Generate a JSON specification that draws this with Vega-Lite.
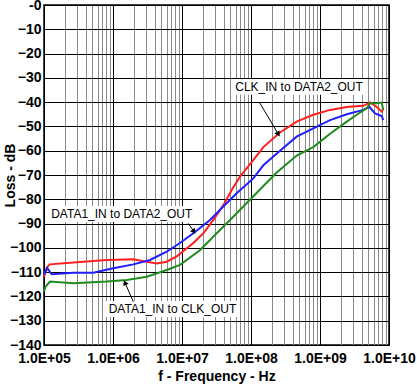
{
  "$schema": "https://vega.github.io/schema/vega-lite/v6.json",
  "width": 345,
  "height": 340,
  "autosize": {"type": "none"},
  "padding": {"left": 44, "top": 5, "right": 28, "bottom": 42},
  "config": {"view": {"stroke": "black", "strokeWidth": 1.5}, "font": "Liberation Sans"},
  "datasets": {
    "curves": [
      {"series": "CLK_IN to DATA2_OUT", "f": 100000, "loss": -112},
      {"series": "CLK_IN to DATA2_OUT", "f": 110000, "loss": -108},
      {"series": "CLK_IN to DATA2_OUT", "f": 122000, "loss": -106.8},
      {"series": "CLK_IN to DATA2_OUT", "f": 266000, "loss": -106},
      {"series": "CLK_IN to DATA2_OUT", "f": 810000, "loss": -105},
      {"series": "CLK_IN to DATA2_OUT", "f": 1970000, "loss": -104.7},
      {"series": "CLK_IN to DATA2_OUT", "f": 3080000, "loss": -105.7},
      {"series": "CLK_IN to DATA2_OUT", "f": 4300000, "loss": -106.4},
      {"series": "CLK_IN to DATA2_OUT", "f": 6000000, "loss": -105.7},
      {"series": "CLK_IN to DATA2_OUT", "f": 8400000, "loss": -103.5},
      {"series": "CLK_IN to DATA2_OUT", "f": 14600000, "loss": -98},
      {"series": "CLK_IN to DATA2_OUT", "f": 20400000, "loss": -94},
      {"series": "CLK_IN to DATA2_OUT", "f": 28500000, "loss": -88.5},
      {"series": "CLK_IN to DATA2_OUT", "f": 39700000, "loss": -82.4},
      {"series": "CLK_IN to DATA2_OUT", "f": 52500000, "loss": -76.2},
      {"series": "CLK_IN to DATA2_OUT", "f": 69300000, "loss": -70.7},
      {"series": "CLK_IN to DATA2_OUT", "f": 97000000, "loss": -65.5},
      {"series": "CLK_IN to DATA2_OUT", "f": 151000000, "loss": -58.5},
      {"series": "CLK_IN to DATA2_OUT", "f": 263000000, "loss": -52.5},
      {"series": "CLK_IN to DATA2_OUT", "f": 459000000, "loss": -48},
      {"series": "CLK_IN to DATA2_OUT", "f": 800000000, "loss": -45.2},
      {"series": "CLK_IN to DATA2_OUT", "f": 1400000000, "loss": -43.2},
      {"series": "CLK_IN to DATA2_OUT", "f": 2440000000, "loss": -42},
      {"series": "CLK_IN to DATA2_OUT", "f": 4250000000, "loss": -41.5},
      {"series": "CLK_IN to DATA2_OUT", "f": 5300000000, "loss": -40.1},
      {"series": "CLK_IN to DATA2_OUT", "f": 6630000000, "loss": -41.9},
      {"series": "CLK_IN to DATA2_OUT", "f": 7840000000, "loss": -43.9},
      {"series": "CLK_IN to DATA2_OUT", "f": 8260000000, "loss": -42.5},
      {"series": "DATA1_IN to DATA2_OUT", "f": 100000, "loss": -111},
      {"series": "DATA1_IN to DATA2_OUT", "f": 112000, "loss": -108.4},
      {"series": "DATA1_IN to DATA2_OUT", "f": 129000, "loss": -110.9},
      {"series": "DATA1_IN to DATA2_OUT", "f": 266000, "loss": -110.2},
      {"series": "DATA1_IN to DATA2_OUT", "f": 518000, "loss": -110.2},
      {"series": "DATA1_IN to DATA2_OUT", "f": 1010000, "loss": -108.4},
      {"series": "DATA1_IN to DATA2_OUT", "f": 1970000, "loss": -106.8},
      {"series": "DATA1_IN to DATA2_OUT", "f": 3440000, "loss": -105},
      {"series": "DATA1_IN to DATA2_OUT", "f": 6000000, "loss": -101.6},
      {"series": "DATA1_IN to DATA2_OUT", "f": 9350000, "loss": -98},
      {"series": "DATA1_IN to DATA2_OUT", "f": 14600000, "loss": -94},
      {"series": "DATA1_IN to DATA2_OUT", "f": 25500000, "loss": -88.5},
      {"series": "DATA1_IN to DATA2_OUT", "f": 39700000, "loss": -83},
      {"series": "DATA1_IN to DATA2_OUT", "f": 62000000, "loss": -77.5},
      {"series": "DATA1_IN to DATA2_OUT", "f": 108000000, "loss": -71.4},
      {"series": "DATA1_IN to DATA2_OUT", "f": 151000000, "loss": -66},
      {"series": "DATA1_IN to DATA2_OUT", "f": 263000000, "loss": -60},
      {"series": "DATA1_IN to DATA2_OUT", "f": 459000000, "loss": -54.2},
      {"series": "DATA1_IN to DATA2_OUT", "f": 800000000, "loss": -50.8},
      {"series": "DATA1_IN to DATA2_OUT", "f": 1400000000, "loss": -47.4},
      {"series": "DATA1_IN to DATA2_OUT", "f": 2440000000, "loss": -45},
      {"series": "DATA1_IN to DATA2_OUT", "f": 4250000000, "loss": -43.2},
      {"series": "DATA1_IN to DATA2_OUT", "f": 5180000000, "loss": -41.9},
      {"series": "DATA1_IN to DATA2_OUT", "f": 6270000000, "loss": -44.6},
      {"series": "DATA1_IN to DATA2_OUT", "f": 7840000000, "loss": -45.7},
      {"series": "DATA1_IN to DATA2_OUT", "f": 8260000000, "loss": -47.4},
      {"series": "DATA1_IN to CLK_OUT", "f": 100000, "loss": -118},
      {"series": "DATA1_IN to CLK_OUT", "f": 105000, "loss": -116},
      {"series": "DATA1_IN to CLK_OUT", "f": 122000, "loss": -113.9},
      {"series": "DATA1_IN to CLK_OUT", "f": 266000, "loss": -114.6},
      {"series": "DATA1_IN to CLK_OUT", "f": 810000, "loss": -113.9},
      {"series": "DATA1_IN to CLK_OUT", "f": 1580000, "loss": -113.2},
      {"series": "DATA1_IN to CLK_OUT", "f": 3080000, "loss": -111.9},
      {"series": "DATA1_IN to CLK_OUT", "f": 6000000, "loss": -109.1},
      {"series": "DATA1_IN to CLK_OUT", "f": 9350000, "loss": -107},
      {"series": "DATA1_IN to CLK_OUT", "f": 18200000, "loss": -101},
      {"series": "DATA1_IN to CLK_OUT", "f": 31800000, "loss": -94},
      {"series": "DATA1_IN to CLK_OUT", "f": 49700000, "loss": -88.5},
      {"series": "DATA1_IN to CLK_OUT", "f": 77300000, "loss": -83},
      {"series": "DATA1_IN to CLK_OUT", "f": 135000000, "loss": -76},
      {"series": "DATA1_IN to CLK_OUT", "f": 236000000, "loss": -69},
      {"series": "DATA1_IN to CLK_OUT", "f": 460000000, "loss": -62},
      {"series": "DATA1_IN to CLK_OUT", "f": 800000000, "loss": -58.5},
      {"series": "DATA1_IN to CLK_OUT", "f": 1400000000, "loss": -53},
      {"series": "DATA1_IN to CLK_OUT", "f": 2440000000, "loss": -48},
      {"series": "DATA1_IN to CLK_OUT", "f": 3500000000, "loss": -45},
      {"series": "DATA1_IN to CLK_OUT", "f": 4750000000, "loss": -42.5},
      {"series": "DATA1_IN to CLK_OUT", "f": 5300000000, "loss": -40.5},
      {"series": "DATA1_IN to CLK_OUT", "f": 6630000000, "loss": -40.5},
      {"series": "DATA1_IN to CLK_OUT", "f": 7840000000, "loss": -40.2},
      {"series": "DATA1_IN to CLK_OUT", "f": 8260000000, "loss": -43.2}
    ],
    "labels": [
      {"text": "CLK_IN to DATA2_OUT", "f": 497000000, "loss": -33.6, "f1": 53100000, "f2": 4640000000, "l1": -30.5, "l2": -37.0},
      {"text": "DATA1_IN to DATA2_OUT", "f": 1340000, "loss": -86.1, "f1": 110000, "f2": 16000000, "l1": -82.8, "l2": -89.4},
      {"text": "DATA1_IN to CLK_OUT", "f": 7280000, "loss": -125.3, "f1": 790000, "f2": 67000000, "l1": -121.9, "l2": -128.5}
    ],
    "arrows": [
      {"name": "clk", "f": 132000000, "loss": -40, "f2": 249000000, "loss2": -53.2},
      {"name": "d2", "f": 12300000, "loss": -89.9, "f2": 14900000, "loss2": -93.3},
      {"name": "clkout", "f": 1970000, "loss": -122.2, "f2": 1490000, "loss2": -114.3}
    ]
  },
  "encoding": {
    "x": {
      "field": "f", "type": "quantitative",
      "scale": {"type": "log", "domain": [100000, 10000000000], "nice": false},
      "axis": {
        "values": [100000,200000,300000,400000,500000,600000,700000,800000,900000,
                   1000000,2000000,3000000,4000000,5000000,6000000,7000000,8000000,9000000,
                   10000000,20000000,30000000,40000000,50000000,60000000,70000000,80000000,90000000,
                   100000000,200000000,300000000,400000000,500000000,600000000,700000000,800000000,900000000,
                   1000000000,2000000000,3000000000,4000000000,5000000000,6000000000,7000000000,8000000000,9000000000,
                   10000000000],
        "title": "f - Frequency - Hz",
        "titleFontSize": 14, "titleFontWeight": "bold", "titleColor": "black", "titlePadding": 4,
        "labelFontSize": 14, "labelFontWeight": "bold", "labelColor": "black", "labelPadding": 6,
        "labelOverlap": false, "labelFlush": false, "labelBound": false,
        "labelExpr": "abs(log(datum.value)/LN10 - round(log(datum.value)/LN10)) < 0.001 ? '1.0E+' + (round(log(datum.value)/LN10) < 10 ? '0' : '') + round(log(datum.value)/LN10) : ''",
        "ticks": false, "domain": false,
        "gridColor": {"condition": {"test": "abs(log(datum.value)/LN10 - round(log(datum.value)/LN10)) < 0.001", "value": "black"}, "value": "#8a8a8a"},
        "gridOpacity": 1, "gridWidth": 1
      }
    },
    "y": {
      "field": "loss", "type": "quantitative",
      "scale": {"domain": [-140, 0], "nice": false},
      "axis": {
        "values": [-140,-130,-120,-110,-100,-90,-80,-70,-60,-50,-40,-30,-20,-10,0],
        "title": "Loss - dB",
        "titleFontSize": 14, "titleFontWeight": "bold", "titleColor": "black",
        "titleX": -34, "titleBaseline": "middle", "titleAlign": "center",
        "labelFontSize": 14, "labelFontWeight": "bold", "labelColor": "black", "labelPadding": 3,
        "labelExpr": "datum.value == 0 ? '-0' : datum.label",
        "labelOverlap": false, "labelBound": false,
        "ticks": false, "domain": false,
        "gridColor": "black", "gridOpacity": 1, "gridWidth": 1
      }
    }
  },
  "layer": [
    {
      "data": {"name": "labels"},
      "mark": {"type": "rect", "fill": "white"},
      "encoding": {
        "x": {"field": "f1", "type": "quantitative"},
        "x2": {"field": "f2"},
        "y": {"field": "l1", "type": "quantitative"},
        "y2": {"field": "l2"}
      }
    },
    {
      "data": {"name": "curves"},
      "mark": {"type": "line", "strokeWidth": 2},
      "encoding": {
        "color": {
          "field": "series", "type": "nominal",
          "scale": {"domain": ["CLK_IN to DATA2_OUT", "DATA1_IN to DATA2_OUT", "DATA1_IN to CLK_OUT"], "range": ["#ff1f1f", "#1f1fff", "#1e8c1e"]},
          "legend": null
        }
      }
    },
    {
      "data": {"name": "arrows"},
      "mark": {"type": "rule", "color": "black", "strokeWidth": 1},
      "encoding": {
        "x2": {"field": "f2"},
        "y2": {"field": "loss2"}
      }
    },
    {
      "data": {"name": "arrows"},
      "transform": [{"filter": "datum.name == 'clk'"}],
      "mark": {"type": "point", "shape": "triangle-up", "filled": true, "color": "black", "size": 35, "angle": 149, "opacity": 1},
      "encoding": {
        "x": {"field": "f2", "type": "quantitative"},
        "y": {"field": "loss2", "type": "quantitative"}
      }
    },
    {
      "data": {"name": "arrows"},
      "transform": [{"filter": "datum.name == 'd2'"}],
      "mark": {"type": "point", "shape": "triangle-up", "filled": true, "color": "black", "size": 35, "angle": 145, "opacity": 1},
      "encoding": {
        "x": {"field": "f2", "type": "quantitative"},
        "y": {"field": "loss2", "type": "quantitative"}
      }
    },
    {
      "data": {"name": "arrows"},
      "transform": [{"filter": "datum.name == 'clkout'"}],
      "mark": {"type": "point", "shape": "triangle-up", "filled": true, "color": "black", "size": 35, "angle": 337, "opacity": 1},
      "encoding": {
        "x": {"field": "f2", "type": "quantitative"},
        "y": {"field": "loss2", "type": "quantitative"}
      }
    },
    {
      "data": {"name": "labels"},
      "mark": {"type": "text", "fontSize": 12, "font": "Liberation Sans", "color": "black", "align": "center", "baseline": "middle"},
      "encoding": {
        "text": {"field": "text"}
      }
    }
  ]
}
